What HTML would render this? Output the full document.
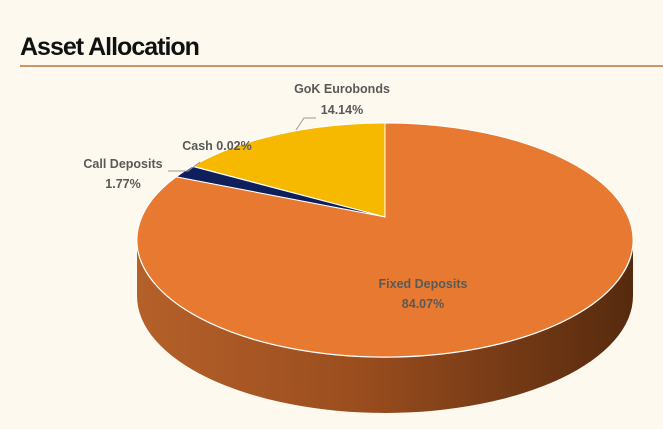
<!DOCTYPE html>
<html><head><meta charset="utf-8"><style>
body{margin:0;width:663px;height:424px;background:#fdf9ee;overflow:hidden;font-family:"Liberation Sans",sans-serif}
</style></head><body>
<svg width="663" height="424" viewBox="0 0 663 424">
<defs>
<linearGradient id="side" x1="0" x2="1" y1="0" y2="0">
<stop offset="0" stop-color="#b5602a"/><stop offset="0.45" stop-color="#9a4d1e"/><stop offset="1" stop-color="#562a0e"/>
</linearGradient>
</defs>
<text x="20" y="55" font-size="25" font-weight="bold" fill="#111" letter-spacing="-1">Asset Allocation</text>
<line x1="20" y1="66" x2="663" y2="66" stroke="#c0703a" stroke-width="1.5"/>
<g id="pie"></g>
<g id="labels" font-size="12.5" font-weight="bold" fill="#595959" text-anchor="middle" font-family="'Liberation Sans',sans-serif">
<text x="342" y="93">GoK Eurobonds</text>
<text x="342" y="114">14.14%</text>
<text x="217" y="150">Cash 0.02%</text>
<text x="123" y="168">Call Deposits</text>
<text x="123" y="188">1.77%</text>
<text x="423" y="288">Fixed Deposits</text>
<text x="423" y="308">84.07%</text>
</g>
<polyline points="316,118 304,118 296,130" fill="none" stroke="#999" stroke-width="1"/>
<polyline points="168,171 188,171 200,162" fill="none" stroke="#999" stroke-width="1"/>
</svg>
<script>
const categories=["GoK Eurobonds","Cash","Call Deposits","Fixed Deposits"];
const values=[14.14,0.02,1.77,84.07];
const colors=["#f7b900","#1f3a7a","#0e1f5c","#e77a30"];
const NS="http://www.w3.org/2000/svg";
const pieGroup=document.getElementById('pie');
const pcx=385,pcy=240,prx=248,pry=117,pdepth=56,pax=385,pay=217;
const pieTotal=values.reduce((a,b)=>a+b,0);
function ellPt(frac){const t=-2*Math.PI*frac;return [pcx+prx*Math.sin(t),pcy-pry*Math.cos(t)];}
const sideEl=document.createElementNS(NS,'path');
sideEl.setAttribute('d',`M${pcx-prx},${pcy} A${prx},${pry} 0 0 0 ${pcx+prx},${pcy} L${pcx+prx},${pcy+pdepth} A${prx},${pry} 0 0 1 ${pcx-prx},${pcy+pdepth} Z`);
sideEl.setAttribute('fill','url(#side)');


pieGroup.appendChild(sideEl);
const topFace=document.createElementNS(NS,'ellipse');
topFace.setAttribute('cx',pcx);topFace.setAttribute('cy',pcy);topFace.setAttribute('rx',prx);topFace.setAttribute('ry',pry);
topFace.setAttribute('fill',colors[3]);topFace.setAttribute('stroke','#fff');topFace.setAttribute('stroke-width','1.5');


pieGroup.appendChild(topFace);
let cumVal=0;
values.forEach((v,i)=>{
  const a=ellPt(cumVal/pieTotal);cumVal+=v;const b=ellPt(cumVal/pieTotal);
  const large=(v/pieTotal)>0.5?1:0;
  const p=document.createElementNS(NS,'path');
  p.setAttribute('d',`M${pax},${pay} L${a[0]},${a[1]} A${prx},${pry} 0 ${large} 0 ${b[0]},${b[1]} Z`);
  p.setAttribute('fill',colors[i]);
  p.setAttribute('stroke','#fff');p.setAttribute('stroke-width','1');
  
  
  pieGroup.appendChild(p);
});
</script>
</body></html>
